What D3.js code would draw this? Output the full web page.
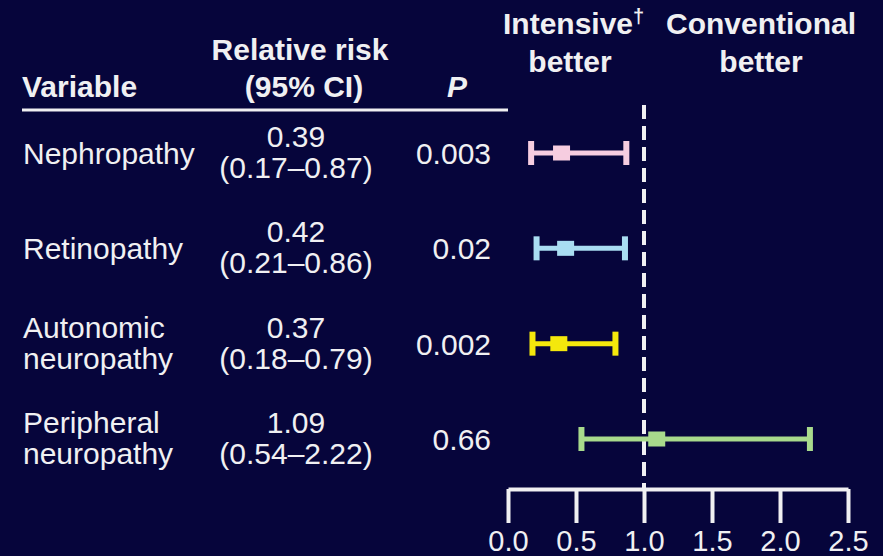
<!DOCTYPE html>
<html>
<head>
<meta charset="utf-8">
<script src="https://cdn.jsdelivr.net/npm/d3@7"></script>
<style>
  html, body { margin: 0; padding: 0; background: #06053b; }
  svg { display: block; font-family: "Liberation Sans", Arial, Helvetica, sans-serif; }
</style>
</head>
<body>
<svg id="chart" width="883" height="556"></svg>
<script>
/* données du forest plot */
var variables = [["Nephropathy"], ["Retinopathy"], ["Autonomic", "neuropathy"], ["Peripheral", "neuropathy"]];
var rr = [0.39, 0.42, 0.37, 1.09];
var ciLow = [0.17, 0.21, 0.18, 0.54];
var ciHigh = [0.87, 0.86, 0.79, 2.22];
var pValues = ["0.003", "0.02", "0.002", "0.66"];
var couleurs = ["#f6cde0", "#a9ddf2", "#f4e80c", "#a8da8c"];
var ticks = [0, 0.5, 1.0, 1.5, 2.0, 2.5];

var W = 883, H = 556;
var blanc = "#f0f0f2";
var taille = 30;
var svg = d3.select("#chart");

svg.append("rect").attr("width", W).attr("height", H).attr("fill", "#06053b");

var x = d3.scaleLinear().domain([0, 2.5]).range([508, 848]);
var y = d3.scalePoint().domain(d3.range(variables.length)).range([153, 439]);

/* en-têtes */
var head = svg.append("g").attr("fill", blanc).attr("font-size", taille).attr("font-weight", "bold");
head.append("text").attr("x", 22).attr("y", 97).text("Variable");
head.append("text").attr("x", 300).attr("y", 60).attr("text-anchor", "middle").text("Relative risk");
head.append("text").attr("x", 304).attr("y", 97).attr("text-anchor", "middle").text("(95% CI)");
head.append("text").attr("x", 457).attr("y", 97).attr("text-anchor", "middle")
    .attr("font-style", "italic").text("P");

var t1 = head.append("text").attr("x", 503).attr("y", 34);
t1.append("tspan").text("Intensive");
t1.append("tspan").attr("font-size", 20).attr("dy", -11).text("†");
head.append("text").attr("x", 570).attr("y", 72).attr("text-anchor", "middle").text("better");
head.append("text").attr("x", 761).attr("y", 34).attr("text-anchor", "middle").text("Conventional");
head.append("text").attr("x", 761).attr("y", 72).attr("text-anchor", "middle").text("better");

/* ligne sous les en-têtes */
svg.append("line").attr("x1", 22).attr("x2", 508).attr("y1", 110).attr("y2", 110)
    .attr("stroke", blanc).attr("stroke-width", 3);

/* colonnes de texte */
var lignes = svg.selectAll("g.row")
    .data(d3.range(variables.length))
    .enter()
    .append("g")
    .attr("class", "row")
    .attr("fill", blanc)
    .attr("font-size", taille);

lignes.each(function (i) {
    var g = d3.select(this);
    var yc = y(i);
    var nom = variables[i];
    if (nom.length === 1) {
        g.append("text").attr("x", 23).attr("y", yc + 11).text(nom[0]);
    } else {
        g.append("text").attr("x", 23).attr("y", yc - 6).text(nom[0]);
        g.append("text").attr("x", 23).attr("y", yc + 25).text(nom[1]);
    }
    g.append("text").attr("x", 296).attr("y", yc - 6).attr("text-anchor", "middle")
        .text(rr[i].toFixed(2));
    g.append("text").attr("x", 296).attr("y", yc + 25).attr("text-anchor", "middle")
        .text("(" + ciLow[i].toFixed(2) + "–" + ciHigh[i].toFixed(2) + ")");
    g.append("text").attr("x", 491).attr("y", yc + 11).attr("text-anchor", "end")
        .text(pValues[i]);
});

/* ligne verticale pointillée à 1.0 */
svg.append("line")
    .attr("x1", x(1)).attr("x2", x(1))
    .attr("y1", 105).attr("y2", 489)
    .attr("stroke", blanc).attr("stroke-width", 4)
    .attr("stroke-dasharray", "14 7");

/* intervalles de confiance */
var ic = svg.selectAll("g.ic")
    .data(d3.range(variables.length))
    .enter()
    .append("g")
    .attr("class", "ic");

ic.append("line")
    .attr("x1", function (i) { return x(ciLow[i]); })
    .attr("x2", function (i) { return x(ciHigh[i]); })
    .attr("y1", function (i) { return y(i); })
    .attr("y2", function (i) { return y(i); })
    .attr("stroke", function (i) { return couleurs[i]; })
    .attr("stroke-width", 5);
ic.append("rect")
    .attr("x", function (i) { return x(ciLow[i]) - 3; })
    .attr("y", function (i) { return y(i) - 12; })
    .attr("width", 6).attr("height", 24)
    .attr("fill", function (i) { return couleurs[i]; });
ic.append("rect")
    .attr("x", function (i) { return x(ciHigh[i]) - 3; })
    .attr("y", function (i) { return y(i) - 12; })
    .attr("width", 6).attr("height", 24)
    .attr("fill", function (i) { return couleurs[i]; });
ic.append("rect")
    .attr("x", function (i) { return x(rr[i]) - 8; })
    .attr("y", function (i) { return y(i) - 7.5; })
    .attr("width", 17).attr("height", 15)
    .attr("fill", function (i) { return couleurs[i]; });

/* axe des x */
var axe = svg.append("g")
    .attr("transform", "translate(0,489)")
    .call(d3.axisBottom(x).tickValues(ticks).tickSize(34).tickSizeOuter(0)
        .tickFormat(d3.format(".1f")));
axe.select(".domain").attr("stroke", blanc).attr("stroke-width", 4);
axe.selectAll(".tick line").attr("stroke", blanc).attr("stroke-width", 4);
axe.selectAll(".tick text")
    .attr("fill", blanc)
    .attr("font-size", 29)
    .attr("font-family", "'Liberation Sans', Arial, sans-serif")
    .attr("dy", null)
    .attr("y", 62);
</script>
</body>
</html>
